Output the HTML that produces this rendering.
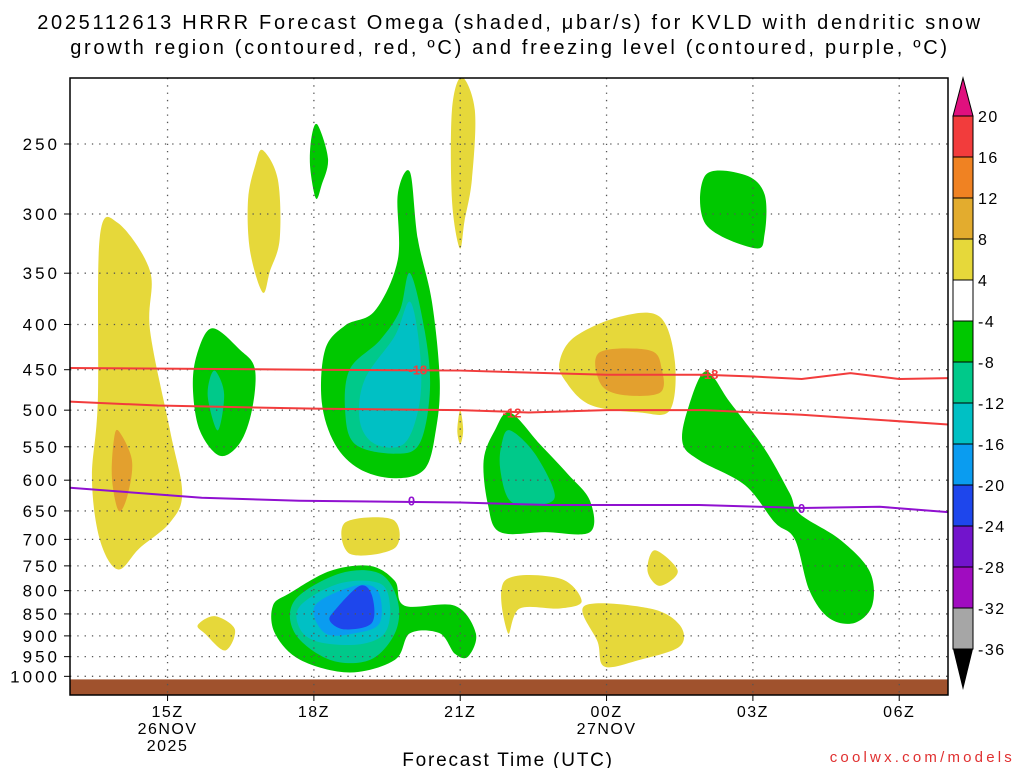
<!DOCTYPE html>
<html><head><meta charset="utf-8">
<style>
html,body{margin:0;padding:0;background:#fff;}
svg{display:block;font-family:"Liberation Sans",sans-serif;}
</style></head>
<body>
<svg id="chart" width="1024" height="768" viewBox="0 0 1024 768" xmlns="http://www.w3.org/2000/svg">
<g font-size="20" text-anchor="middle" fill="#000" letter-spacing="2.7">
<text x="510" y="29">2025112613 HRRR Forecast Omega (shaded, μbar/s) for KVLD with dendritic snow</text>
<text x="510" y="54">growth region (contoured, red, ºC) and freezing level (contoured, purple, ºC)</text>
</g>
<g id="plot"></g>
<g id="cbar"></g>
<text x="508" y="766" font-size="19" text-anchor="middle" letter-spacing="1.8">Forecast Time (UTC)</text>
<text x="1015" y="762" font-size="15" text-anchor="end" fill="#e03030" letter-spacing="3.2">coolwx.com/models</text>
</svg>
<script>
const hourTicks=[15,18,21,24,27,30];
const hourLabels=["15Z","18Z","21Z","00Z","03Z","06Z"];
const presTicks=[250,300,350,400,450,500,550,600,650,700,750,800,850,900,950,1000];
const cbarLevels=[20,16,12,8,4,-4,-8,-12,-16,-20,-24,-28,-32,-36];
const cbarColors=["#f23c3c","#f08222","#e3ac2e","#e6d83a","#ffffff","#00c800","#00c98a","#00c0c4","#0a9cf0","#1e46ec","#7214cc","#a00cc0","#a6a6a6"];
const C={y:"#e6d83a",o:"#e3a02e",g:"#00c800",t:"#00c98a",c:"#00c0c4",lb:"#0a9cf0",b:"#1e46ec"};
// shaded regions: [colorKey, [[hour, hPa], ...]]
const shades=[
["y",[[13.98,307],[14.64,348],[14.64,406],[15.05,527],[15.3,620],[15.05,670],[14.43,716],[13.98,757],[13.61,700],[13.45,597],[13.57,489],[13.61,319]]],
["o",[[14.0,528],[14.27,570],[14.18,624],[14.0,650],[13.86,597],[13.9,540]]],
["y",[[16.95,254],[17.26,274],[17.3,320],[17.1,348],[16.95,368],[16.69,330],[16.65,289],[16.8,264]]],
["g",[[18.08,238],[18.29,260],[18.16,278],[18.04,288],[17.92,264],[17.96,244]]],
["y",[[21.03,210],[21.3,229],[21.24,274],[21.09,305],[20.99,328],[20.83,289],[20.83,229]]],
["y",[[21.0,500],[21.06,527],[21.0,546],[20.94,527]]],
["g",[[15.91,404],[16.48,427],[16.79,449],[16.73,500],[16.48,545],[16.07,563],[15.66,527],[15.52,473],[15.6,433]]],
["t",[[15.99,452],[16.16,480],[16.03,527],[15.83,486],[15.87,460]]],
["g",[[19.97,269],[20.13,320],[20.42,377],[20.58,462],[20.5,527],[20.27,583],[19.66,597],[18.94,583],[18.43,546],[18.16,489],[18.23,427],[18.64,401],[19.25,386],[19.72,338],[19.72,285]]],
["t",[[19.97,350],[20.27,406],[20.38,473],[20.17,545],[19.66,560],[18.84,546],[18.64,500],[18.74,449],[19.35,417],[19.76,386]]],
["c",[[19.97,377],[20.17,427],[20.17,489],[19.86,545],[19.25,546],[18.94,514],[19.04,462],[19.66,412]]],
["y",[[18.64,670],[19.62,665],[19.66,716],[18.74,727]]],
["g",[[17.51,805],[18.33,760],[19.15,750],[19.66,780],[19.86,832],[20.89,832],[21.32,894],[21.16,950],[20.89,943],[20.58,894],[19.97,894],[19.66,958],[18.74,990],[17.72,958],[17.2,894],[17.16,832]]],
["t",[[17.61,820],[18.53,765],[19.35,765],[19.72,822],[19.66,894],[19.15,958],[18.33,958],[17.61,894]]],
["c",[[17.72,832],[18.53,785],[19.35,785],[19.56,832],[19.45,894],[18.94,920],[18.12,915],[17.72,885]]],
["lb",[[18.02,832],[18.84,790],[19.31,800],[19.35,870],[18.84,894],[18.23,894]]],
["b",[[18.43,842],[18.94,790],[19.19,810],[19.19,870],[18.64,885],[18.33,866]]],
["y",[[15.97,855],[16.38,885],[16.18,935],[15.77,895],[15.62,875]]],
["g",[[22.02,503],[22.63,546],[23.2,590],[23.66,633],[23.66,687],[22.74,687],[21.82,687],[21.57,640],[21.48,570],[21.71,527]]],
["t",[[22.02,527],[22.53,560],[22.94,625],[22.53,640],[22.02,633],[21.82,583],[21.85,546]]],
["y",[[24.27,392],[25.09,392],[25.4,440],[25.3,500],[24.68,503],[23.66,493],[23.14,462],[23.04,440],[23.35,413]]],
["o",[[23.86,430],[24.89,428],[25.13,449],[25.09,478],[24.27,480],[23.86,465]]],
["y",[[21.91,780],[23.04,775],[23.49,822],[23.04,838],[22.22,838],[21.98,894]]],
["y",[[23.55,832],[24.89,838],[25.5,875],[25.5,925],[24.68,958],[23.96,975],[23.82,915]]],
["y",[[24.99,720],[25.46,760],[25.09,790],[24.84,760]]],
["g",[[26.03,271],[26.84,271],[27.24,285],[27.24,316],[27.04,328],[26.03,308]]],
["g",[[26.03,452],[26.52,489],[27.24,553],[27.75,620],[27.96,655],[28.78,700],[29.39,760],[29.45,830],[29.09,870],[28.57,860],[28.16,800],[27.86,700],[27.45,670],[26.84,608],[25.91,570],[25.56,545],[25.66,500]]]
];
const line18Hours=[13,18,21,24,26,27,28,29,30,31];
const line18Pres=[448,450,451,456,456,458,461,454,461,460];
const line12Hours=[13,14.8,18,21,22.4,24,26,28,31];
const line12Pres=[489,494,498,500,503,500,500,506,519];
const line0Hours=[13,15.7,17.7,21,22.8,25.9,28,29.6,31];
const line0Pres=[612,628,633,636,640,640,645,643,652];
const lineLabels=[["-18",20.13,450,"#f23c3c"],["-18",26.1,455,"#f23c3c"],["-12",22.06,503,"#f23c3c"],["0",20.0,633,"#9010d0"],["0",28.0,645,"#9010d0"]];

const X0=70,X1=948,Y0=78,Y1=695,H0=13,H1=31;
const xs=h=>X0+(h-H0)*(X1-X0)/(H1-H0);
const ys=p=>144+384*Math.log(p/250);
const NS="http://www.w3.org/2000/svg";
const plot=document.getElementById('plot');
function mk(tag,attrs,parent){const e=document.createElementNS(NS,tag);for(const k in attrs)e.setAttribute(k,attrs[k]);(parent||plot).appendChild(e);return e;}
function smooth(pts){const n=pts.length;let d=`M${pts[0][0]},${pts[0][1]}`;
 for(let i=0;i<n;i++){const p0=pts[(i-1+n)%n],p1=pts[i],p2=pts[(i+1)%n],p3=pts[(i+2)%n];
 d+=`C${p1[0]+(p2[0]-p0[0])/6},${p1[1]+(p2[1]-p0[1])/6} ${p2[0]-(p3[0]-p1[0])/6},${p2[1]-(p3[1]-p1[1])/6} ${p2[0]},${p2[1]}`;}
 return d+'Z';}
const clip=mk('clipPath',{id:'pc'});mk('rect',{x:X0,y:Y0,width:X1-X0,height:Y1-Y0},clip);
const g=mk('g',{'clip-path':'url(#pc)'});
shades.forEach(s=>{const pts=s[1].map(q=>[xs(q[0]),ys(q[1])]);
 const e=mk('path',{d:smooth(pts),fill:C[s[0]]},g);
 
 });
// ground
const gr=mk('rect',{x:X0,y:ys(1008),width:X1-X0,height:Y1-ys(1008),fill:'#a0522d'},g);


// grid
presTicks.forEach(p=>{const l=mk('line',{x1:X0,x2:X1,y1:ys(p),y2:ys(p),stroke:'#555','stroke-width':1.3,'stroke-dasharray':'1.3 6'},g);
 
 });
hourTicks.forEach(h=>{const l=mk('line',{x1:xs(h),x2:xs(h),y1:Y0,y2:Y1,stroke:'#555','stroke-width':1.3,'stroke-dasharray':'1.3 6'},g);
 
 });
function line(hs,ps,col,name){const d=hs.map((h,i)=>(i?'L':'M')+xs(h)+','+ys(ps[i])).join('');
 const e=mk('path',{d:d,fill:'none',stroke:col,'stroke-width':2},g);
 
 }
line(line18Hours,line18Pres,'#f23c3c','contour-minus18');
line(line12Hours,line12Pres,'#f23c3c','contour-minus12');
line(line0Hours,line0Pres,'#9010d0','freezing-level-0');
lineLabels.forEach(L=>{const t=mk('text',{x:xs(L[1]),y:ys(L[2])+5,'font-size':13,'font-weight':'bold','text-anchor':'middle',fill:L[3]},g);
 t.textContent=L[0];
 
 });
// frame
const fr=mk('rect',{x:X0,y:Y0,width:X1-X0,height:Y1-Y0,fill:'none',stroke:'#000','stroke-width':1.5});


// axis labels
presTicks.forEach(p=>{const t=mk('text',{x:60,y:ys(p)+6,'font-size':17,'text-anchor':'end','letter-spacing':3});t.textContent=p;
 
 
 mk('line',{x1:X0-6,x2:X0,y1:ys(p),y2:ys(p),stroke:'#000'});});
hourTicks.forEach((h,i)=>{const t=mk('text',{x:xs(h),y:717,'font-size':16,'text-anchor':'middle','letter-spacing':1.5});t.textContent=hourLabels[i];
 
 
 mk('line',{x1:xs(h),x2:xs(h),y1:Y1,y2:Y1+6,stroke:'#000'});});
[["26NOV",15,734],["2025",15,751],["27NOV",24,734]].forEach(a=>{const t=mk('text',{x:xs(a[1]),y:a[2],'font-size':16,'text-anchor':'middle','letter-spacing':1.5});t.textContent=a[0];
 
 });
// colorbar
const cb=document.getElementById('cbar');
const cy=i=>116+i*41;
mk('path',{d:`M953,${cy(0)}L963,78L973,${cy(0)}Z`,fill:'#e0107e',stroke:'#000'},cb);
cbarColors.forEach((c,i)=>{const r=mk('rect',{x:953,y:cy(i),width:20,height:41,fill:c,stroke:'#000','stroke-width':1},cb);
 
 });
const last=cy(cbarLevels.length-1);
mk('path',{d:`M953,${last}L963,690L973,${last}Z`,fill:'#000'},cb);
cbarLevels.forEach((v,i)=>{const t=mk('text',{x:978,y:cy(i)+6,'font-size':16,'letter-spacing':1.5},cb);t.textContent=v;
 
 });
</script>
</body></html>
